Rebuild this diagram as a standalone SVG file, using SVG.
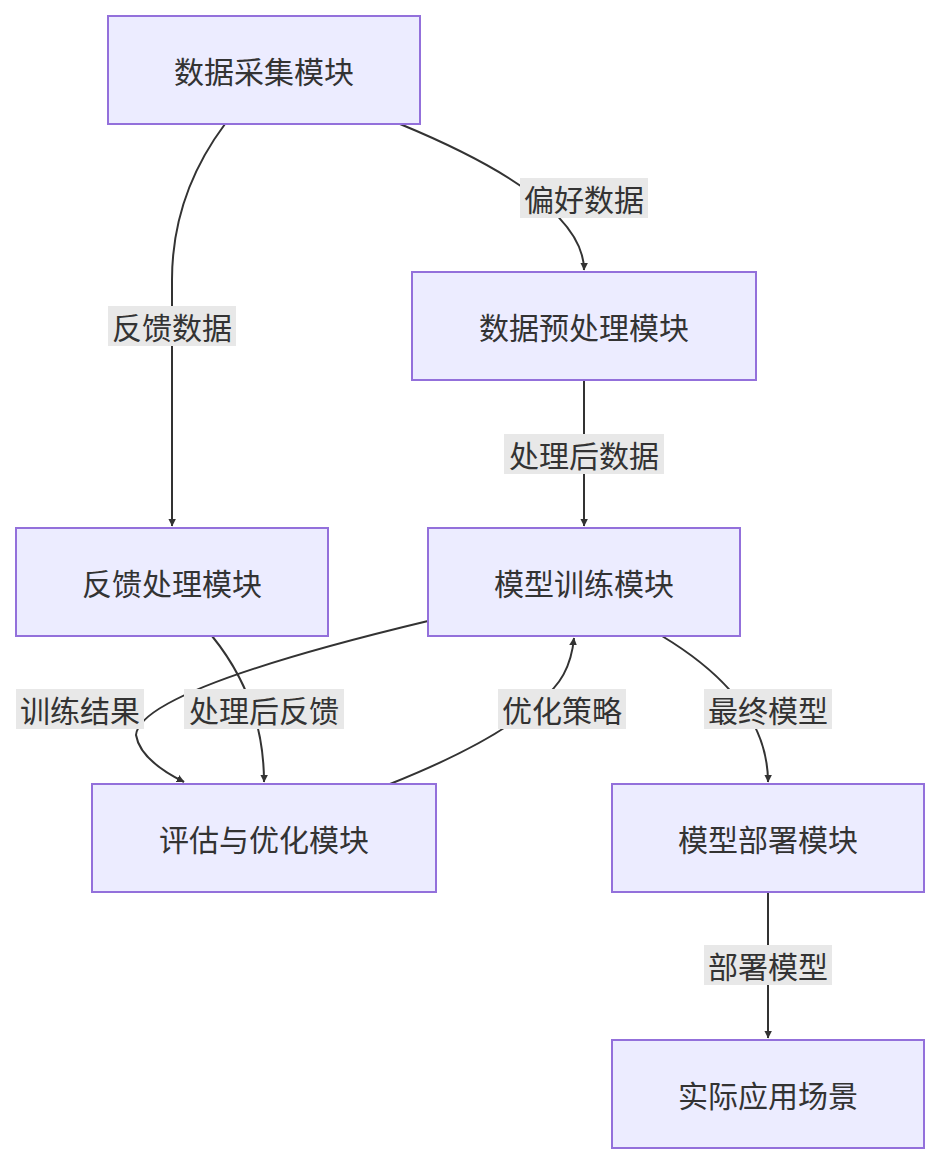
<svg xmlns="http://www.w3.org/2000/svg" width="940" height="1164" viewBox="0 0 940 1164">
<style>
.n rect{fill:#ECECFF;stroke:#9370DB;stroke-width:2}
text{font-family:"Noto Sans CJK SC","Liberation Sans",sans-serif;font-size:30px;fill:#333;text-anchor:middle;dominant-baseline:central}
.e path{fill:none;stroke:#333;stroke-width:2;marker-end:url(#a)}
.l rect{fill:#e8e8e8}
</style>
<defs><marker id="a" viewBox="0 0 10 10" refX="9" refY="5" markerWidth="8" markerHeight="8" orient="auto" markerUnits="userSpaceOnUse"><path d="M0,0L10,5L0,10z" fill="#333" transform="scale(1.6) translate(-4,-2)"/></marker></defs>
<rect width="940" height="1164" fill="#fff"/>
<g class="e">
<path d="M400,124 Q584,200 584,270"/>
<path d="M225,124 Q172,195 172,280 L172,526"/>
<path d="M584,380 L584,526"/>
<path d="M428,621 Q140,690 136,735 Q140,760 184,782"/>
<path d="M212,636 Q264,700 264,782"/>
<path d="M390,784 Q500,740 540,700 Q570,680 574,638"/>
<path d="M662,636 Q768,700 768,782"/>
<path d="M768,892 L768,1038"/>
</g>
<g class="l">
<rect x="520" y="178" width="128" height="40"/><text x="584" y="198">偏好数据</text>
<rect x="108" y="306" width="128" height="40"/><text x="172" y="326">反馈数据</text>
<rect x="504" y="434" width="160" height="40"/><text x="584" y="454">处理后数据</text>
<rect x="16" y="689" width="128" height="40"/><text x="80" y="709">训练结果</text>
<rect x="184" y="689" width="160" height="40"/><text x="264" y="709">处理后反馈</text>
<rect x="498" y="689" width="128" height="40"/><text x="562" y="709">优化策略</text>
<rect x="704" y="689" width="128" height="40"/><text x="768" y="709">最终模型</text>
<rect x="704" y="945" width="128" height="40"/><text x="768" y="965">部署模型</text>
</g>
<g id="n1" class="n"><rect x="108" y="16" width="312" height="108"/><text x="264" y="70">数据采集模块</text></g>
<g id="n2" class="n"><rect x="412" y="272" width="344" height="108"/><text x="584" y="326">数据预处理模块</text></g>
<g id="n3" class="n"><rect x="16" y="528" width="312" height="108"/><text x="172" y="582">反馈处理模块</text></g>
<g id="n4" class="n"><rect x="428" y="528" width="312" height="108"/><text x="584" y="582">模型训练模块</text></g>
<g id="n5" class="n"><rect x="92" y="784" width="344" height="108"/><text x="264" y="838">评估与优化模块</text></g>
<g id="n6" class="n"><rect x="612" y="784" width="312" height="108"/><text x="768" y="838">模型部署模块</text></g>
<g id="n7" class="n"><rect x="612" y="1040" width="312" height="108"/><text x="768" y="1094">实际应用场景</text></g>
</svg>
